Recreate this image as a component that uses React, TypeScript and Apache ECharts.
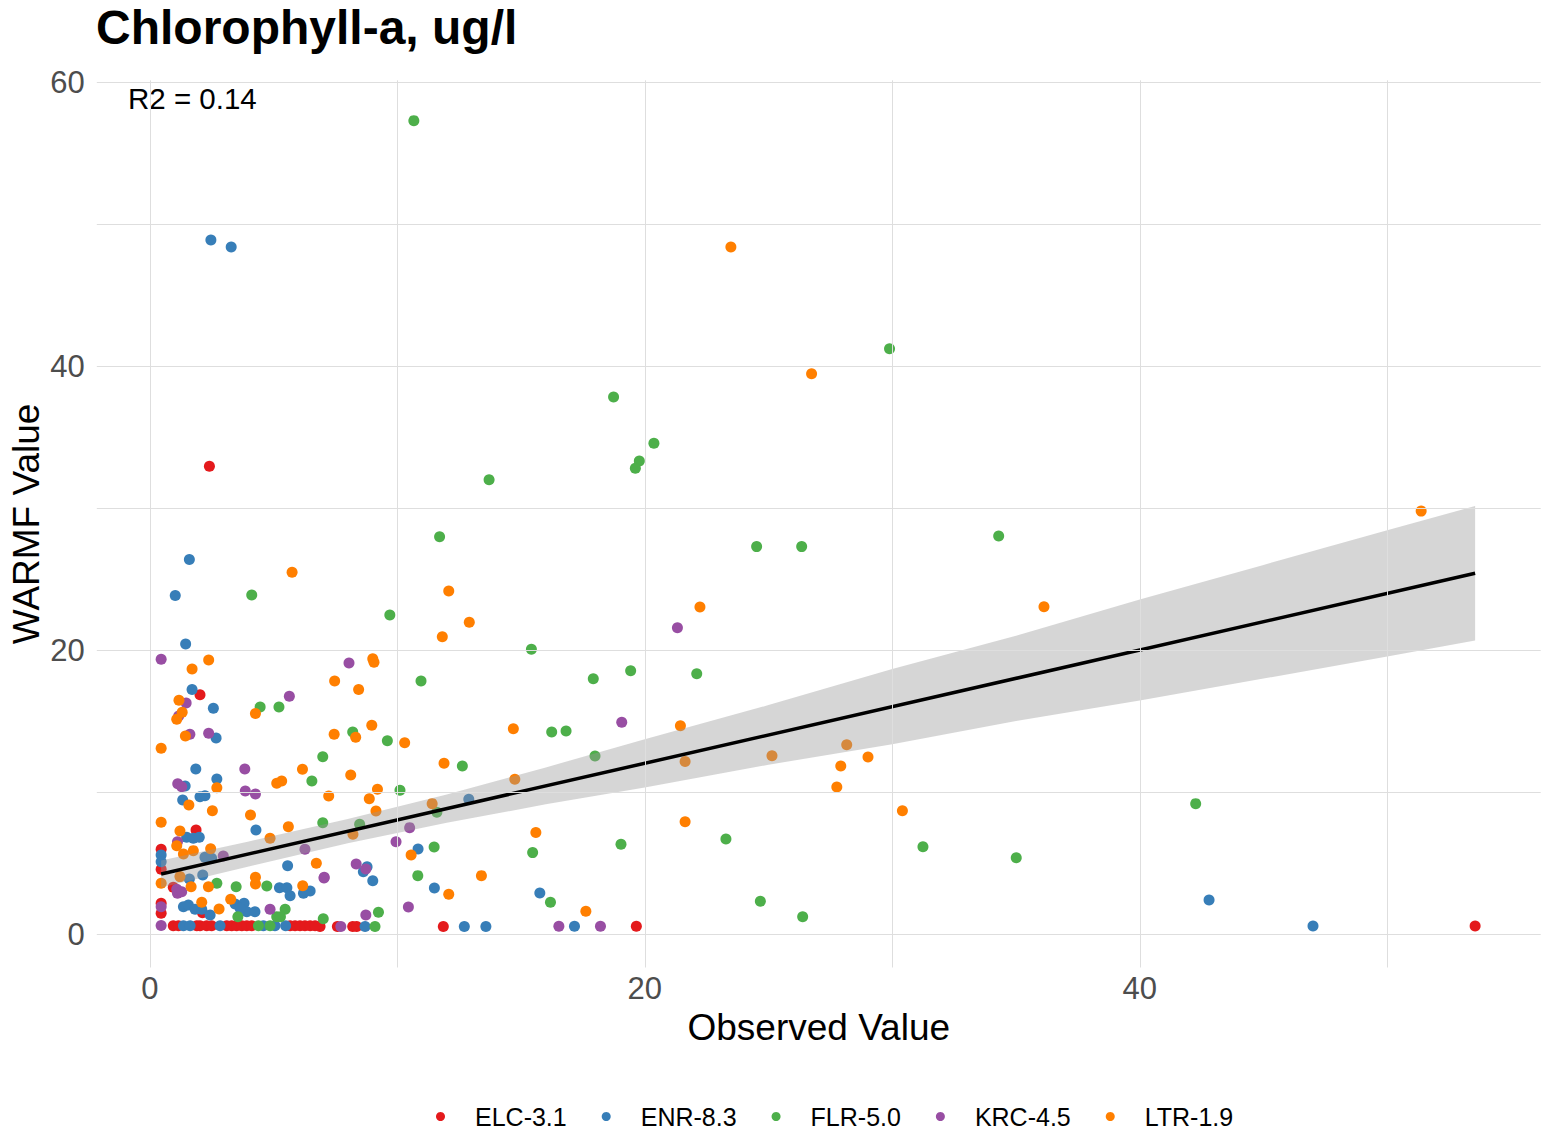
import React, { useEffect, useRef } from "react";
import * as echarts from "echarts";

const sites = ["ELC-3.1", "ENR-8.3", "FLR-5.0", "KRC-4.5", "LTR-1.9"];
const siteColors = ["#E41A1C", "#377EB8", "#4DAF4A", "#984EA3", "#FF7F00"];

// ELC-3.1
const elcObs = [53.55, 2.41, 2.03, 19.66, 11.86, 7.58, 8.2, 8.36, 6.88, 1.87, 0.46, 0.46, 0.46, 0.46, 0.95, 2.13,
  0.95, 1.16, 1.9, 2.03, 2.3, 2.5, 3.11, 3.31, 3.51, 3.72, 3.92, 4.12, 5.67, 5.87, 6.07, 6.27, 6.48, 6.68];
const elcWarmf = [0.58, 32.96, 16.87, 0.56, 0.54, 0.54, 0.54, 0.54, 0.54, 7.35, 5.99, 4.58, 2.18, 1.48, 3.31, 1.52,
  0.6, 0.6, 0.6, 0.6, 0.6, 0.6, 0.6, 0.6, 0.6, 0.6, 0.6, 0.6, 0.6, 0.6, 0.6, 0.6, 0.6, 0.6];

// ENR-8.3
const enrObs = [1.6, 1.03, 1.45, 1.71, 2.57, 2.68, 2.47, 3.29, 42.8, 47.0, 15.76, 17.16, 12.89, 10.84, 8.78, 8.63, 9.01,
  11.5, 12.71, 13.58, 8.7, 1.86, 2.71, 1.43, 1.33, 2.03, 2.23, 4.29, 1.49, 1.76, 2.0, 2.23, 2.5, 5.57, 0.46, 0.46, 1.6,
  2.14, 5.24, 5.54, 5.67, 6.21, 6.48, 1.36, 1.56, 1.83, 2.1, 2.44, 3.45, 3.81, 3.92, 4.25, 3.65,
  1.36, 1.63, 2.84, 4.59, 5.06, 5.49];
const enrWarmf = [26.4, 23.85, 20.44, 17.23, 15.92, 13.82, 48.9, 48.4, 2.42, 0.58, 2.91, 0.56, 9.51, 6.01, 4.76, 4.41, 3.77,
  3.26, 0.54, 0.54, 0.54, 11.64, 10.94, 10.44, 9.46, 9.69, 9.76, 7.35, 6.83, 6.76, 6.83, 5.42, 5.35, 4.83, 5.58, 5.11, 3.89,
  4.18, 3.28, 3.28, 2.72, 2.89, 3.05, 1.94, 2.06, 1.76, 1.76, 1.36, 2.13, 2.18, 1.59, 1.59, 1.83,
  0.6, 0.6, 0.6, 0.6, 0.6, 0.6];

// FLR-5.0
const flrObs = [10.67, 29.89, 18.74, 20.37, 19.78, 19.62, 13.71, 11.71, 24.52, 26.34, 34.3, 4.12, 4.46, 5.22, 9.7, 10.96,
  8.2, 9.6, 6.99, 15.42, 19.43, 17.92, 22.1, 16.24, 16.82, 17.99, 15.47, 19.04, 23.28, 16.19, 31.24, 35.01, 24.67, 26.38,
  42.26, 12.63, 10.11, 6.99, 8.48, 11.6, 11.49, 10.83, 9.24, 7.01, 9.1, 6.55, 2.71, 3.49, 4.73, 5.47, 3.56, 5.13, 5.28,
  4.39, 4.86];
const flrWarmf = [57.3, 41.24, 37.84, 34.58, 33.33, 32.82, 32.01, 28.0, 27.3, 27.3, 28.05, 23.9, 16.0, 16.0, 22.49, 17.84,
  14.25, 13.63, 12.5, 20.07, 18.56, 18.0, 18.35, 14.25, 14.32, 12.56, 5.75, 6.34, 6.71, 2.25, 6.17, 5.39, 2.32, 1.24,
  9.2, 11.85, 10.14, 7.86, 7.75, 8.59, 6.15, 4.13, 1.55, 1.1, 0.54, 10.8, 3.59, 3.35, 3.4, 1.76, 1.24, 1.24, 1.24,
  0.6, 0.6];

// KRC-4.5
const krcObs = [0.46, 1.47, 5.64, 1.17, 1.62, 2.38, 8.05, 21.32, 19.07, 16.53, 18.21, 10.5, 9.95, 8.34, 8.73, 7.04, 10.45,
  8.73, 7.72, 3.84, 1.13, 1.29, 3.86, 4.27, 1.12, 2.97, 6.27, 7.05, 1.09, 1.12, 1.29, 4.86, 0.46, 0.46];
const krcWarmf = [19.37, 16.29, 16.76, 15.37, 14.08, 14.15, 19.1, 21.59, 14.93, 0.56, 0.56, 7.51, 6.52, 4.95, 4.6, 3.96, 1.92,
  1.36, 0.54, 11.64, 10.6, 10.39, 10.09, 9.88, 6.52, 5.51, 5.99, 4.01, 3.17, 2.89, 3.0, 1.76, 1.94, 0.61];

// LTR-1.9
const ltrObs = [5.75, 2.38, 1.71, 1.18, 4.27, 1.31, 1.09, 1.44, 0.46, 23.48, 26.74, 51.37, 36.13, 12.08, 12.91, 11.82, 9.01,
  9.06, 7.47, 8.44, 8.97, 7.45, 8.32, 10.3, 14.69, 22.23, 21.44, 14.75, 21.63, 15.6, 21.63, 17.62, 25.14, 28.16, 29.02,
  27.92, 27.76, 30.41, 11.89, 8.12, 7.23, 9.2, 8.87, 9.14, 11.41, 8.21, 10.56, 13.4, 12.08, 6.17, 2.71, 5.13, 5.33, 1.58,
  2.53, 4.07, 0.46, 5.6, 1.22, 4.86, 1.09, 1.76, 1.36, 2.46, 6.73, 0.46, 1.22, 1.67, 2.37, 4.27, 4.27, 6.18, 2.1, 2.8, 3.27];
const ltrWarmf = [25.5, 19.32, 18.68, 16.48, 15.54, 15.63, 15.14, 13.96, 13.1, 48.4, 39.48, 29.8, 23.07, 24.18, 21.97, 20.96,
  19.41, 19.15, 17.84, 17.23, 14.72, 14.08, 13.87, 13.49, 14.48, 23.05, 14.69, 10.92, 12.16, 7.16, 7.93, 1.62, 12.58, 13.35,
  12.49, 11.85, 10.37, 8.7, 12.04, 11.22, 9.74, 10.21, 9.55, 8.68, 9.2, 7.04, 5.58, 4.13, 2.82, 11.62, 10.32, 10.63, 10.8,
  9.1, 8.7, 8.4, 7.89, 7.58, 7.27, 6.76, 6.24, 5.89, 5.65, 6.03, 5.0, 3.59, 4.06, 3.35, 3.35, 3.54, 4.01, 3.42, 2.25, 1.78,
  2.46];

const siteObs = [elcObs, enrObs, flrObs, krcObs, ltrObs];
const siteWarmf = [elcWarmf, enrWarmf, flrWarmf, krcWarmf, ltrWarmf];

// linear fit and its confidence band
const fitObs = [0.46, 53.55];
const fitWarmf = [4.25, 25.42];
const bandObs = [0.46, 4, 8, 12, 16, 20, 25, 30, 35, 40, 45, 50, 53.55];
const bandLow = [3.3, 4.78, 6.41, 7.85, 9.15, 10.34, 11.94, 13.38, 15.02, 16.47, 18.01, 19.56, 20.68];
const bandHigh = [5.2, 6.54, 8.11, 9.85, 11.75, 13.74, 16.14, 18.68, 21.02, 23.57, 26.01, 28.46, 30.16];

const xTickLabels = [0, 20, 40];
const yTickLabels = [0, 20, 40, 60];
const xGridValues = [0, 10, 20, 30, 40, 50];
const yGridValues = [0, 10, 20, 30, 40, 50, 60];

const FONT = "Liberation Sans";

export default function App() {
  const ref = useRef<HTMLDivElement>(null);

  useEffect(() => {
    document.body.style.margin = "0";
    if (!ref.current) return;
    const chart = echarts.init(ref.current, undefined, { renderer: "svg" });

    const scatterSeries = sites.map((name, s) => ({
      name,
      type: "scatter",
      data: siteObs[s].map((x, i) => [x, siteWarmf[s][i]]),
      symbol: "circle",
      symbolSize: 11,
      itemStyle: { color: siteColors[s], opacity: 1 },
      z: 2,
      silent: true,
    }));

    chart.setOption({
      animation: false,
      textStyle: { fontFamily: FONT },
      title: {
        text: "Chlorophyll-a, ug/l",
        left: 96,
        top: 3,
        padding: 0,
        textStyle: { fontSize: 48, fontWeight: "bold", color: "#000", fontFamily: FONT },
      },
      graphic: [
        {
          type: "text",
          left: 128,
          top: 83,
          style: { text: "R2 = 0.14", fill: "#000", font: `29.5px "${FONT}"` },
        },
      ],
      legend: {
        data: sites,
        left: 431,
        top: 1099,
        icon: "circle",
        itemWidth: 9,
        itemHeight: 9,
        itemGap: 35,
        textStyle: { fontSize: 25, color: "#000", fontFamily: FONT, padding: [0, 0, 0, 25] },
      },
      grid: {
        left: 96.8,
        right: 10.3,
        top: 80.3,
        bottom: 173.5,
        containLabel: false,
        outerBoundsMode: "none",
      },
      xAxis: {
        type: "value",
        min: -2.14,
        max: 56.2,
        name: "Observed Value",
        nameLocation: "middle",
        nameGap: 41,
        nameTextStyle: { fontSize: 37, color: "#000", fontFamily: FONT },
        axisLine: { show: false },
        axisTick: { show: false },
        splitLine: { show: false },
        axisLabel: {
          margin: 5,
          fontSize: 31,
          color: "#4d4d4d",
          fontFamily: FONT,
          formatter: (v: number) => (xTickLabels.includes(v) ? String(v) : ""),
        },
      },
      yAxis: {
        type: "value",
        min: -2.34,
        max: 60.14,
        name: "WARMF Value",
        nameLocation: "middle",
        nameGap: 52,
        nameMoveOverlap: false,
        nameTextStyle: { fontSize: 37, color: "#000", fontFamily: FONT },
        axisLine: { show: false },
        axisTick: { show: false },
        splitLine: { show: false },
        axisLabel: {
          margin: 12,
          fontSize: 31,
          color: "#4d4d4d",
          fontFamily: FONT,
          formatter: (v: number) => (yTickLabels.includes(v) ? String(v) : ""),
        },
      },
      series: [
        {
          name: "grid",
          type: "scatter",
          data: [],
          silent: true,
          z: 0,
          markLine: {
            silent: true,
            symbol: ["none", "none"],
            label: { show: false },
            lineStyle: { color: "#dedede", width: 1, type: "solid" },
            data: [
              ...xGridValues.map((v) => ({ xAxis: v })),
              ...yGridValues.map((v) => ({ yAxis: v })),
            ],
          },
        },
        ...scatterSeries,
        {
          name: "band",
          type: "custom",
          silent: true,
          z: 3,
          data: [[bandObs[0], bandLow[0]]],
          renderItem: (_params: any, api: any) => {
            const pts: number[][] = [];
            bandObs.forEach((x, i) => pts.push(api.coord([x, bandHigh[i]])));
            for (let i = bandObs.length - 1; i >= 0; i--) pts.push(api.coord([bandObs[i], bandLow[i]]));
            return {
              type: "polygon",
              shape: { points: pts },
              style: { fill: "rgba(153,153,153,0.4)", stroke: "none" },
            };
          },
        },
        {
          name: "fit",
          type: "line",
          silent: true,
          z: 4,
          symbol: "none",
          data: fitObs.map((x, i) => [x, fitWarmf[i]]),
          lineStyle: { color: "#000", width: 3.5 },
        },
      ],
    });

    return () => chart.dispose();
  }, []);

  return <div ref={ref} style={{ width: 1551, height: 1141 }} />;
}
